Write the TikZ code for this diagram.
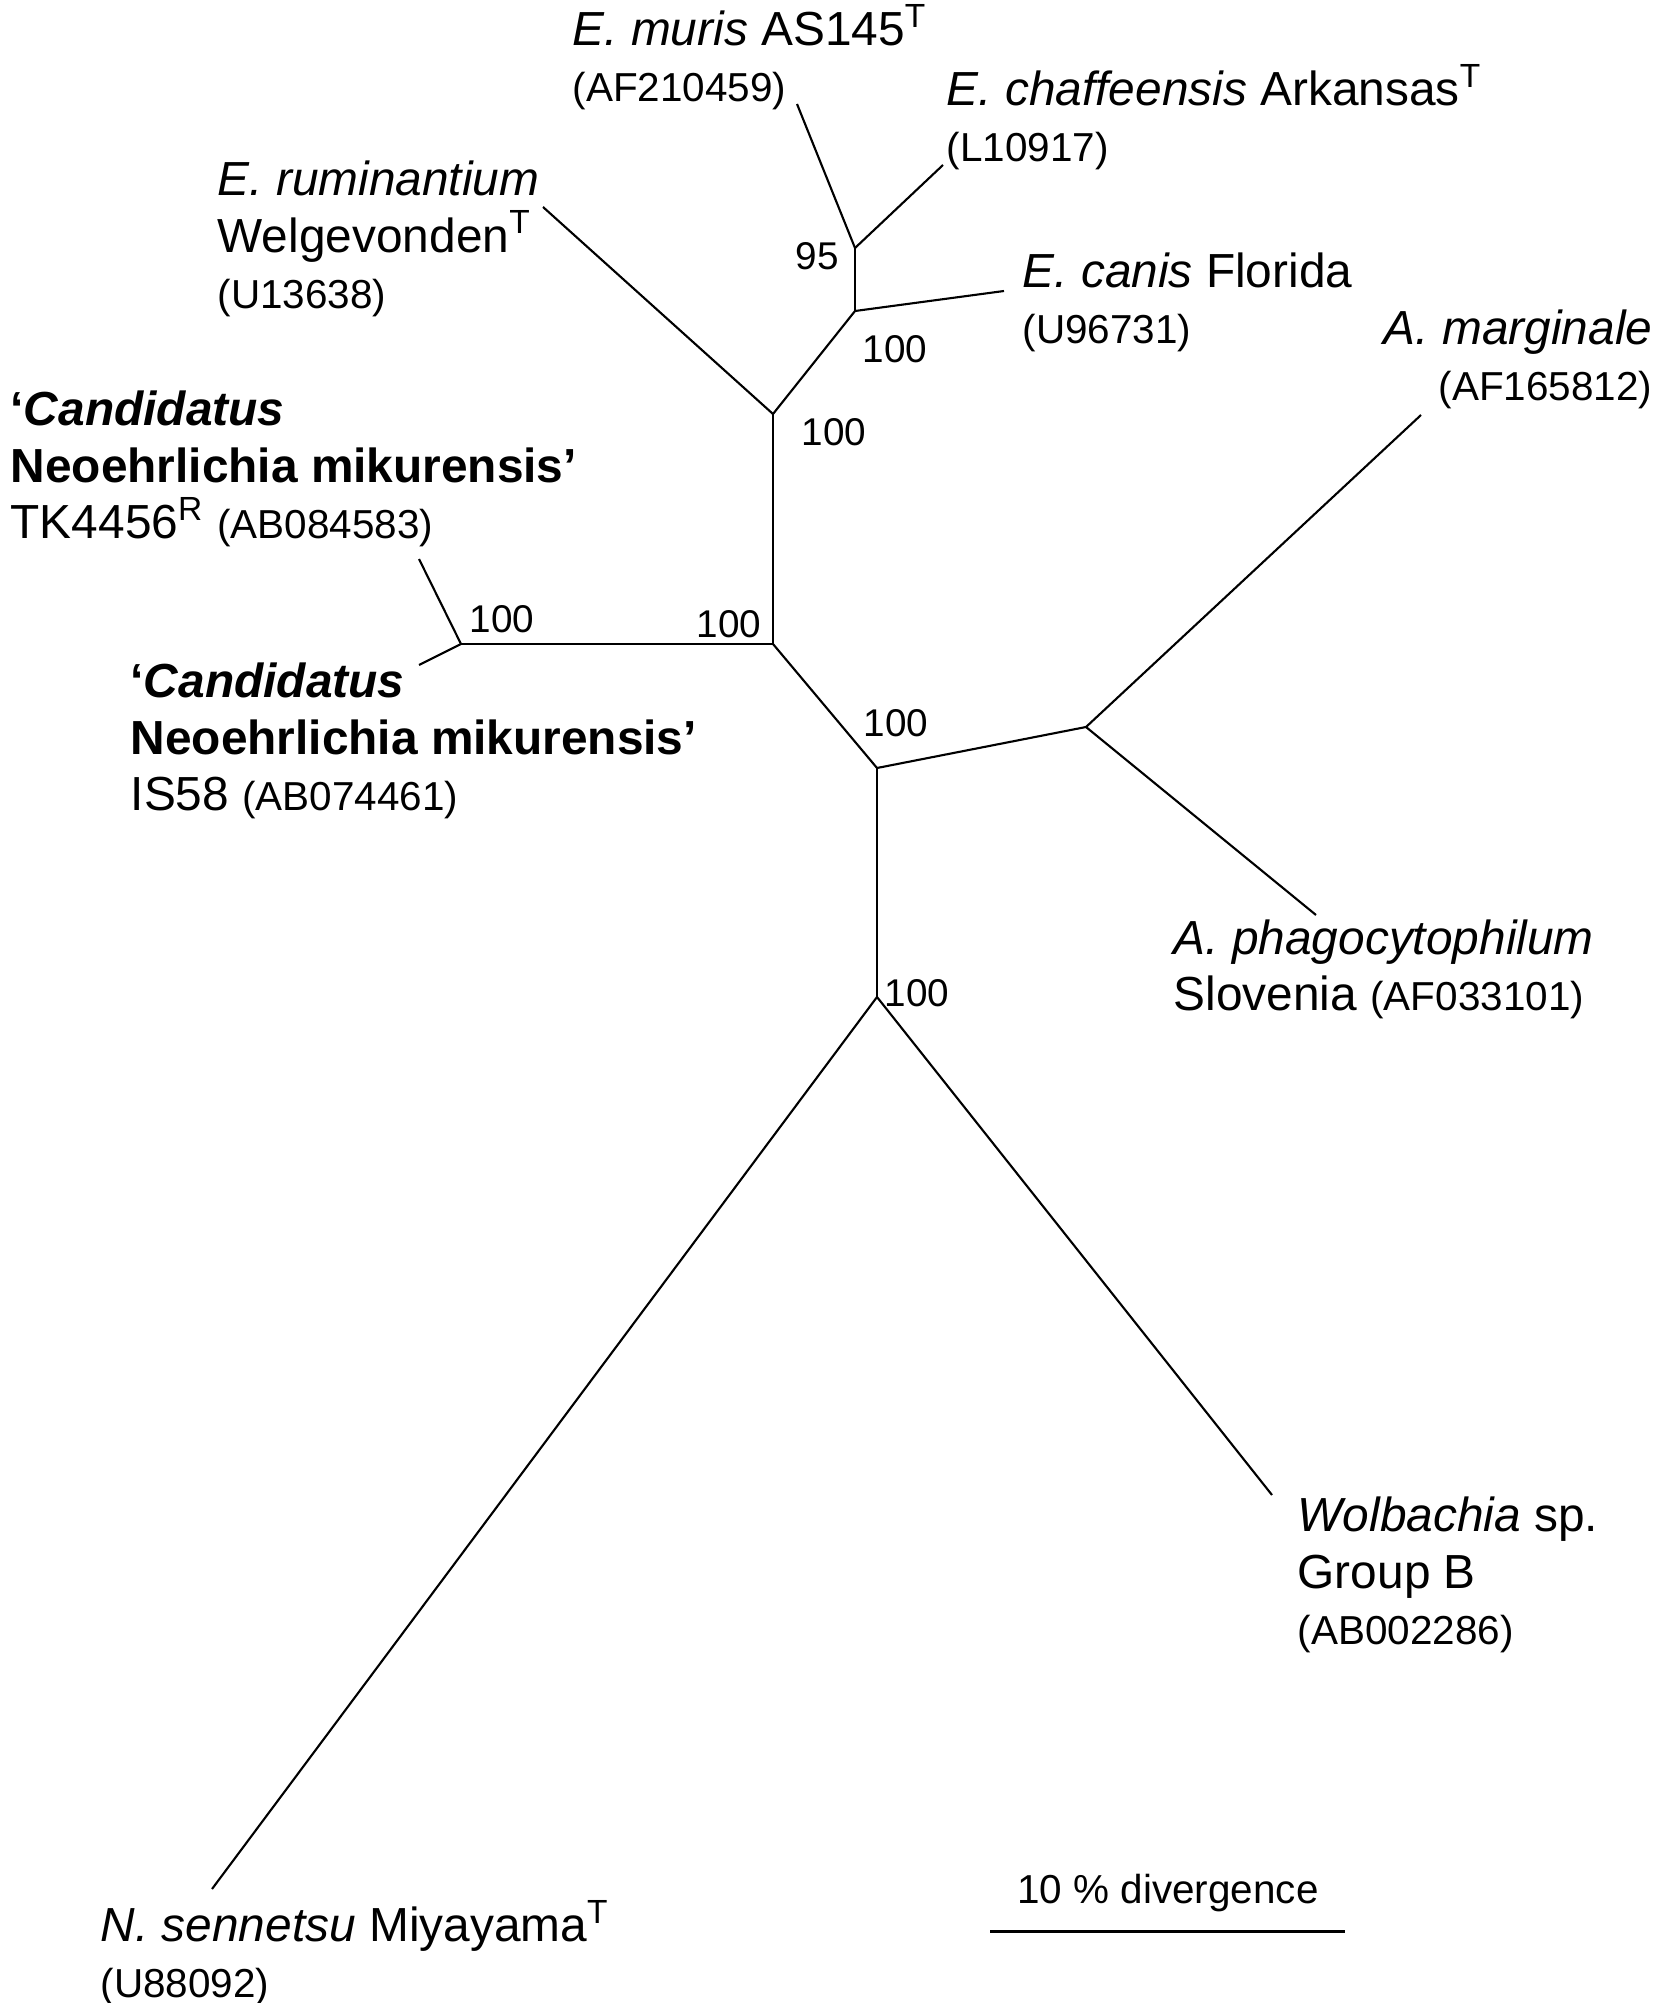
\documentclass[tikz,border=0pt]{standalone}
\usepackage{fontspec}
\setmainfont{Liberation Sans}
\newcommand\accno[1]{{\fontsize{11.5}{16}\selectfont #1}}

\begin{document}
\begin{tikzpicture}[x=0.01cm, y=-0.01cm,
    taxon/.style={anchor=west, align=left, inner sep=0pt, font=\fontsize{13.6}{16}\selectfont},
    boot/.style={inner sep=0pt, font=\fontsize{11}{13}\selectfont},
    branch/.style={line width=0.6pt}]

    \useasboundingbox (0,0) rectangle (1657,2003);

    % inner junctions
    \coordinate (j95) at (855,248);
    \coordinate (jcanis) at (855,311);
    \coordinate (jehr) at (773,414);
    \coordinate (jmid) at (773,644);
    \coordinate (jneo) at (461,644);
    \coordinate (jana) at (877,768);
    \coordinate (jmarg) at (1086,727);
    \coordinate (jbase) at (877,997);

    % leaf ends
    \coordinate (muris) at (797,104);
    \coordinate (chaff) at (943,165);
    \coordinate (canis) at (1004,291);
    \coordinate (rumin) at (543,207);
    \coordinate (tk) at (419,559);
    \coordinate (is58) at (419,665);
    \coordinate (marg) at (1421,415);
    \coordinate (phago) at (1316,915);
    \coordinate (wolb) at (1272,1495);
    \coordinate (senn) at (212,1889);

    \draw[branch] (j95) -- (muris);
    \draw[branch] (j95) -- (chaff);
    \draw[branch] (j95) -- (jcanis);
    \draw[branch] (jcanis) -- (canis);
    \draw[branch] (jcanis) -- (jehr);
    \draw[branch] (jehr) -- (rumin);
    \draw[branch] (jehr) -- (jmid);
    \draw[branch] (jmid) -- (jneo);
    \draw[branch] (jneo) -- (tk);
    \draw[branch] (jneo) -- (is58);
    \draw[branch] (jmid) -- (jana);
    \draw[branch] (jana) -- (jmarg);
    \draw[branch] (jmarg) -- (marg);
    \draw[branch] (jmarg) -- (phago);
    \draw[branch] (jana) -- (jbase);
    \draw[branch] (jbase) -- (wolb);
    \draw[branch] (jbase) -- (senn);

    % bootstrap values
    \node[boot] (b95) at (817,256) {95};
    \node[boot] (bcanis) at (895,349) {100};
    \node[boot] (behr) at (834,432) {100};
    \node[boot] (bneo) at (502,619) {100};
    \node[boot] (bmid) at (729,624) {100};
    \node[boot] (bana) at (896,723) {100};
    \node[boot] (bbase) at (917,993) {100};

    % taxa
    \node[taxon] (lmuris) at (572,57) {\textit{E. muris} AS145\textsuperscript{T}\\\accno{(AF210459)}};
    \node[taxon] (lchaff) at (946,117) {\textit{E. chaffeensis} Arkansas\textsuperscript{T}\\\accno{(L10917)}};
    \node[taxon] (lcanis) at (1022,302) {\textit{E. canis} Florida\\\accno{(U96731)}};
    \node[taxon] (lrumin) at (217,239) {\textit{E. ruminantium}\\Welgevonden\textsuperscript{T}\\\accno{(U13638)}};
    \node[taxon, anchor=east, align=right] (lmarg) at (1653,359) {\textit{A. marginale}\\\accno{(AF165812)}};
    \node[taxon] (ltk) at (10,469) {\textbf{`\textit{Candidatus}}\\\textbf{Neoehrlichia mikurensis'}\\TK4456\textsuperscript{R} \accno{(AB084583)}};
    \node[taxon] (lis58) at (130,741) {\textbf{`\textit{Candidatus}}\\\textbf{Neoehrlichia mikurensis'}\\IS58 \accno{(AB074461)}};
    \node[taxon] (lphago) at (1173,969) {\textit{A. phagocytophilum}\\Slovenia \accno{(AF033101)}};
    \node[taxon] (lwolb) at (1297,1575) {\textit{Wolbachia} sp.\\Group B\\\accno{(AB002286)}};
    \node[taxon] (lsenn) at (100,1953) {\textit{N. sennetsu} Miyayama\textsuperscript{T}\\\accno{(U88092)}};

    % scale bar
    \coordinate (sbl) at (990,1931);
    \coordinate (sbr) at (1345,1931);
    \draw[line width=0.85pt] (sbl) -- (sbr);
    \node[inner sep=0pt, font=\fontsize{11.5}{13}\selectfont] (lscale) at (1168,1893) {10 \% divergence};

\end{tikzpicture}
\end{document}
